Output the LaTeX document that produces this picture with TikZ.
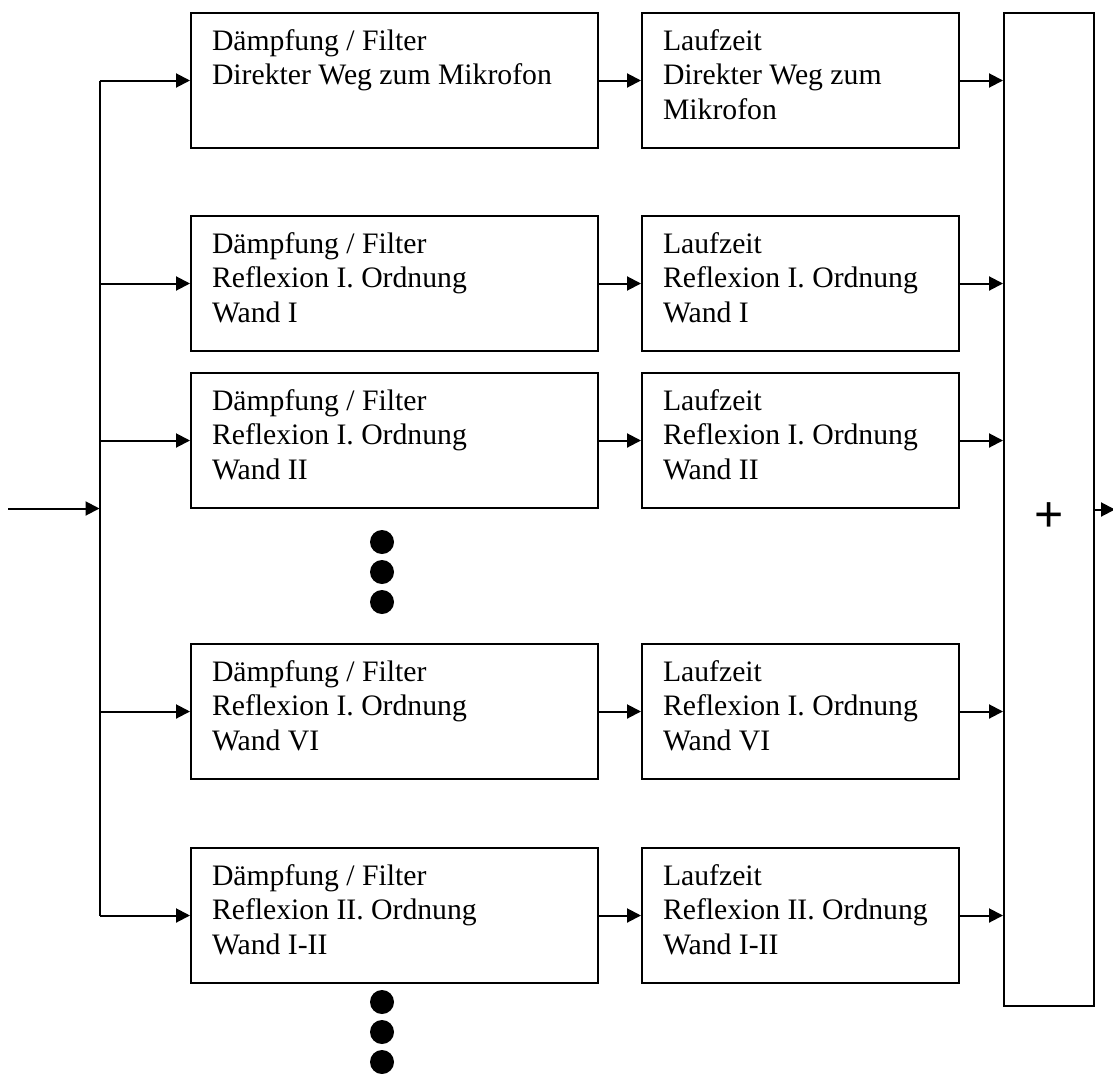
\documentclass[tikz,border=0pt]{standalone}
\usepackage{fontspec}
\setmainfont{Liberation Serif}
\newfontfamily\plusfont{Liberation Sans}
\usetikzlibrary{arrows.meta,positioning}
\newcommand{\blk}[2]{\parbox[c][109pt][t]{#1}{\raggedright\strut #2}}

\begin{document}
\begin{tikzpicture}[
  x=1pt, y=-1pt,
  node distance=42pt,
  blkbase/.style={draw, line width=2pt, inner xsep=21pt, inner ysep=13pt,
                  font=\fontsize{29.7}{34.6}\selectfont},
  filt/.style={blkbase},
  lauf/.style={blkbase},
  summ/.style={draw, line width=2pt, minimum width=90pt, minimum height=993pt,
               inner sep=0pt},
  plus/.style={font=\plusfont\fontsize{50}{50}\selectfont, inner sep=0pt},
  wire/.style={line width=2pt},
  arr/.style={-{Triangle[length=14pt,width=14pt]}, line width=2pt}
]
\useasboundingbox (0,0) rectangle (1113,1073);
\node[filt, anchor=north west] (d1) at (190,12) {\blk{365pt}{Dämpfung / Filter\\Direkter Weg zum Mikrofon}};
\node[filt, below=66pt of d1]  (d2) {\blk{365pt}{Dämpfung / Filter\\Reflexion I. Ordnung\\Wand I}};
\node[filt, below=20pt of d2]  (d3) {\blk{365pt}{Dämpfung / Filter\\Reflexion I. Ordnung\\Wand II}};
\node[filt, below=134pt of d3] (d4) {\blk{365pt}{Dämpfung / Filter\\Reflexion I. Ordnung\\Wand VI}};
\node[filt, below=67pt of d4]  (d5) {\blk{365pt}{Dämpfung / Filter\\Reflexion II. Ordnung\\Wand I-II}};
\node[lauf, right=of d1] (l1) {\blk{275pt}{Laufzeit\\Direkter Weg zum\\Mikrofon}};
\node[lauf, right=of d2] (l2) {\blk{275pt}{Laufzeit\\Reflexion I. Ordnung\\Wand I}};
\node[lauf, right=of d3] (l3) {\blk{275pt}{Laufzeit\\Reflexion I. Ordnung\\Wand II}};
\node[lauf, right=of d4] (l4) {\blk{275pt}{Laufzeit\\Reflexion I. Ordnung\\Wand VI}};
\node[lauf, right=of d5] (l5) {\blk{275pt}{Laufzeit\\Reflexion II. Ordnung\\Wand I-II}};
\node[summ, anchor=north west] (sum) at (1003,12) {};
\node[plus] (add) at ([yshift=-8pt]sum.center) {+};
\coordinate (src) at (8,508.5);
\coordinate (bus) at (99.5,508.5);
\coordinate (out) at ([xshift=20pt]sum.east);
\draw[wire] (bus|-d1.west) -- (bus|-d5.west);
\draw[arr] (src) -- (bus);
\foreach \i in {1,...,5}{
  \draw[arr] (bus|-d\i.west) -- (d\i.west);
  \draw[arr] (d\i) -- (l\i);
  \draw[arr] (l\i.east) -- (sum.west|-l\i.east);
}
\draw[arr] (sum.east) -- (out);
\foreach \yy in {542,572,602,1002,1032,1062}
  \fill (382,\yy) circle[radius=12pt];
\end{tikzpicture}
\end{document}
